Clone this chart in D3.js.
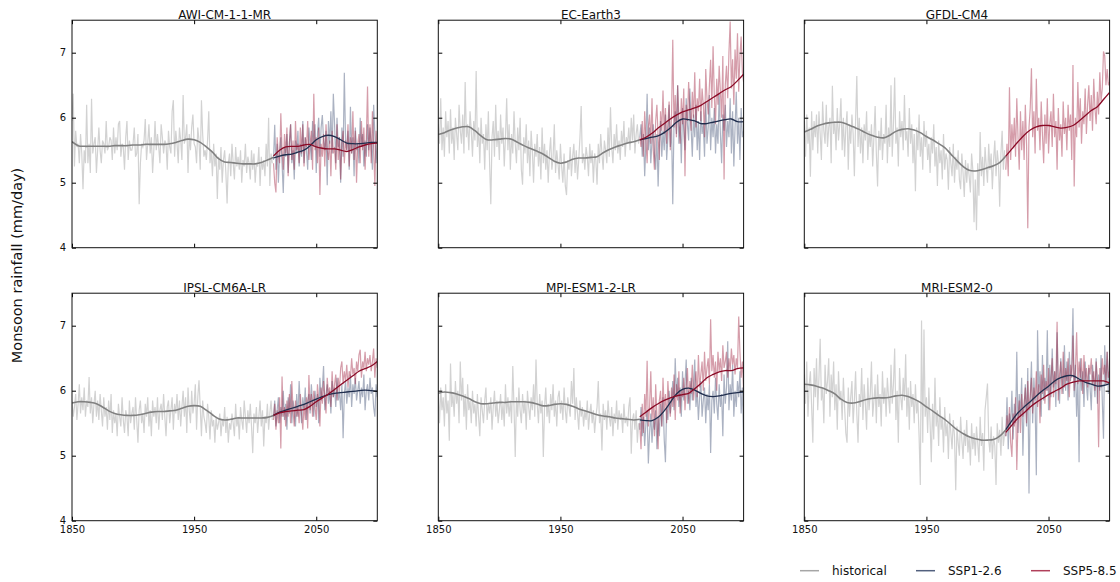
<!DOCTYPE html>
<html><head><meta charset="utf-8">
<script src="https://cdn.jsdelivr.net/npm/d3@7"></script>
<style>body{margin:0;background:#fff}svg{display:block;font-family:"DejaVu Sans",sans-serif}</style>
</head><body><svg id="c" width="1120" height="582"></svg>
<script>
const modelNames = ["AWI-CM-1-1-MR","EC-Earth3","GFDL-CM4","IPSL-CM6A-LR","MPI-ESM1-2-LR","MRI-ESM2-0"];
const xTicks = [1850,1950,2050];
const yTicks = [4,5,6,7];
const legendLabels = ["historical","SSP1-2.6","SSP5-8.5"];
const histStart = 1850, sspStart = 2015, smoothStep = 5;

// ---------- AWI-CM-1-1-MR ----------
const awiHistRaw = [
5.95,6.37,5.25,5.8,5.55,5.6,5.3,5.75,5.45,4.9,
5.5,5.3,6.2,5.3,5.6,5.15,6.29,5.45,5.6,5.7,
5.15,5.5,5.85,5.5,5.3,5.65,5.6,5.45,5.95,5.5,
5.55,5.7,5.65,5.35,5.85,5.45,5.7,5.5,5.9,5.95,
5.4,5.6,5.55,5.2,5.7,5.95,5.35,5.65,5.5,5.5,
5.6,5.85,5.4,5.45,5.75,4.67,5.3,5.6,5.55,5.65,
5.98,5.35,5.6,5.9,5.45,5.7,5.15,5.5,5.95,5.5,
5.75,5.55,5.3,5.9,5.7,5.45,5.65,5.6,5.2,5.8,
5.55,5.45,6.1,6.27,5.4,5.8,5.6,5.3,5.85,5.65,
5.35,6.35,5.6,5.7,5.9,5.15,5.75,5.5,5.85,6.05,
5.6,5.55,5.3,5.85,5.65,5.2,6.27,5.75,5.4,5.5,
5.35,5.65,6.1,5.3,5.5,5.1,5.6,5.25,5.45,4.75,
5.4,5.2,5.55,5.0,5.35,5.5,5.15,4.68,5.3,5.45,
5.1,5.6,5.3,5.05,5.55,5.25,5.4,5.2,5.5,5.0,
5.35,5.25,5.6,5.15,5.4,5.3,5.05,5.5,5.2,5.45,
5.0,5.3,5.25,5.55,4.95,5.4,5.2,5.35,5.1,5.6,
5.25,6.0,4.95,5.45,5.3];
const awiHistSmooth = [5.63,5.57,5.56,5.56,5.56,5.56,5.56,5.57,5.57,5.57,5.58,5.58,5.59,5.59,5.59,5.59,5.60,5.62,5.65,5.67,5.66,5.62,5.55,5.47,5.37,5.32,5.31,5.30,5.29,5.29,5.29,5.31,5.35,5.39];
const awi126Raw = [
5.35,5.89,5.2,5.6,5.0,5.45,5.7,5.3,4.84,5.55,
5.4,5.75,5.15,5.6,5.9,5.3,5.5,5.05,5.65,5.45,
5.8,5.25,5.6,5.4,5.95,5.3,5.7,5.5,5.2,5.85,
5.6,5.35,5.95,5.55,5.9,5.15,5.75,6.0,5.4,5.85,
6.04,5.65,5.5,5.8,4.96,5.95,5.6,6.1,5.45,6.37,
5.9,5.3,6.0,5.55,5.7,5.0,5.85,5.4,6.69,5.65,
5.5,5.8,5.2,6.17,5.45,5.7,5.1,5.85,5.5,5.6,
5.3,6.0,5.55,5.75,5.25,5.65,5.4,5.9,5.5,5.85,
5.6,5.2,6.2,5.75,5.3,5.6];
const awi126Smooth = [5.38,5.41,5.43,5.44,5.47,5.50,5.57,5.66,5.71,5.73,5.71,5.66,5.61,5.60,5.60,5.61,5.62,5.62];
const awi585Raw = [
5.3,5.0,4.85,5.7,5.4,5.3,6.07,5.5,5.2,5.75,
5.45,5.85,5.1,5.6,5.9,5.35,5.65,5.2,5.95,5.5,
5.6,5.3,5.85,5.45,5.9,5.25,5.7,5.55,5.95,5.35,
5.6,5.8,5.2,6.37,5.5,5.7,5.3,5.85,4.81,5.6,
5.4,5.75,5.25,5.9,5.5,5.35,5.65,5.1,5.8,5.45,
5.55,5.2,5.9,5.35,5.7,5.05,5.6,5.8,5.3,5.65,
5.5,5.9,5.25,5.7,5.45,6.1,5.35,5.8,5.0,5.6,
5.75,5.3,5.95,5.5,5.85,5.2,5.65,6.48,5.4,5.9,
5.3,6.1,5.55,4.95,5.8,5.6];
const awi585Smooth = [5.41,5.50,5.55,5.56,5.56,5.58,5.59,5.55,5.53,5.52,5.52,5.50,5.48,5.51,5.55,5.58,5.60,5.61];

// ---------- EC-Earth3 ----------
const ecHistRaw = [
5.9,5.6,6.3,5.5,5.85,5.4,6.1,5.7,5.95,5.45,
6.13,5.6,5.85,5.35,6.0,5.75,5.5,6.2,5.8,5.6,
6.05,5.45,6.55,5.7,5.9,5.5,6.1,5.8,5.4,5.95,
5.65,6.72,5.55,5.85,5.3,6.0,5.6,5.75,5.2,5.9,
5.5,6.1,5.3,4.67,5.7,5.95,5.4,6.2,5.55,5.8,
5.35,6.05,5.6,5.85,5.25,5.7,6.3,5.5,5.9,5.2,
5.75,5.45,6.1,5.6,5.3,5.85,5.5,6.0,5.2,4.97,
5.7,5.45,5.9,5.3,5.65,5.1,5.8,5.5,5.0,5.6,
5.4,5.75,5.25,5.55,5.05,5.85,5.3,5.6,5.2,5.5,
5.0,5.45,5.7,5.2,5.4,5.9,5.15,5.5,5.3,5.05,
5.6,5.25,5.0,5.45,4.95,4.81,5.35,5.2,5.55,5.1,
5.4,5.6,5.15,5.5,5.05,5.35,5.7,6.18,5.3,5.45,
5.2,5.55,5.4,5.1,5.6,5.3,5.5,5.0,5.45,5.35,
4.97,5.6,5.3,5.75,5.45,5.2,5.65,5.5,5.3,5.85,
5.4,6.16,5.55,5.3,5.75,5.5,5.9,5.45,5.65,5.35,
5.8,5.55,5.95,5.4,5.7,5.6,5.85,5.5,6.0,5.65,
6.05,5.45,5.75,5.9,5.6];
const ecHistSmooth = [5.74,5.77,5.81,5.84,5.86,5.86,5.80,5.72,5.66,5.66,5.67,5.68,5.67,5.62,5.57,5.53,5.49,5.45,5.39,5.33,5.30,5.32,5.36,5.38,5.38,5.39,5.40,5.46,5.51,5.55,5.58,5.61,5.63,5.66];
const ec126Raw = [
5.7,5.9,5.4,5.75,5.1,5.6,6.37,5.5,5.85,5.3,
5.65,5.9,5.45,5.2,5.75,4.94,5.6,5.95,5.4,5.8,
5.5,6.05,5.35,5.7,6.2,5.55,5.85,4.67,5.9,6.1,
5.75,6.5,5.6,5.95,5.3,6.15,5.8,5.5,6.3,5.9,
5.65,6.45,5.85,5.4,6.05,5.7,6.2,5.5,5.95,5.35,
6.1,5.75,5.9,5.4,6.25,5.6,5.85,6.35,5.5,6.0,
5.7,6.15,5.45,5.9,5.6,6.37,5.75,5.3,6.05,5.8,
6.2,5.55,5.95,5.7,6.3,5.45,6.1,5.25,5.85,6.4,
5.6,6.0,5.35,6.15,5.7,5.8];
const ec126Smooth = [5.66,5.68,5.70,5.72,5.77,5.84,5.93,5.98,5.97,5.95,5.91,5.91,5.93,5.95,5.97,5.98,5.94,5.94];
const ec585Raw = [
5.7,5.55,5.95,5.4,6.1,5.65,5.3,5.85,6.05,5.6,
6.3,5.5,5.2,5.95,6.2,5.7,5.35,6.1,5.8,6.42,
5.75,6.15,5.6,5.9,6.25,5.5,6.05,7.2,5.85,6.35,
5.7,6.5,6.0,5.6,6.3,5.9,6.45,5.1,6.2,5.95,
6.55,6.1,5.8,6.4,6.0,6.7,5.85,6.3,6.1,6.6,
5.95,6.45,6.2,5.7,6.75,6.3,6.05,6.5,6.89,6.15,
7.1,6.35,5.9,6.6,6.2,6.8,6.4,6.0,6.95,5.05,
6.5,6.8,6.3,7.0,7.48,6.45,6.9,6.2,7.05,6.6,
7.3,6.4,6.95,7.25,6.7,6.55];
const ec585Smooth = [5.66,5.70,5.76,5.84,5.91,5.98,6.04,6.09,6.12,6.15,6.19,6.25,6.31,6.37,6.43,6.48,6.57,6.67];

// ---------- GFDL-CM4 ----------
const gfdlHistRaw = [
5.95,5.4,6.05,5.6,5.85,5.09,6.1,5.5,5.95,5.7,
6.05,5.45,6.1,5.75,5.35,6.25,5.8,5.6,6.2,5.55,
5.85,6.0,5.3,6.49,5.75,5.95,5.5,6.15,5.65,5.9,
6.3,5.5,6.0,5.4,5.85,6.1,5.2,5.9,5.6,6.05,
5.75,5.1,5.95,6.64,5.55,6.0,5.45,5.85,5.3,5.9,
5.65,6.1,5.35,5.8,5.55,5.9,5.25,5.7,6.18,5.45,
4.94,5.8,5.5,6.0,5.35,5.75,5.6,6.2,5.3,5.85,
5.55,6.5,5.4,5.9,6.62,5.6,5.85,5.25,6.1,5.7,
5.95,5.5,6.35,5.65,5.8,5.4,6.15,5.6,5.9,5.3,
5.75,4.87,5.85,5.5,6.05,5.4,5.7,5.2,5.95,5.55,
5.8,5.35,5.6,5.15,5.7,5.45,5.9,5.25,5.55,4.95,
5.65,5.3,5.5,5.05,5.75,5.2,5.45,5.35,4.89,5.55,
5.3,5.1,5.6,5.0,5.4,5.2,5.5,5.05,4.9,5.45,
5.15,4.78,5.35,5.0,5.3,5.1,4.85,5.45,5.2,4.39,
5.05,4.27,5.3,4.8,5.78,5.1,5.4,4.95,5.55,5.25,
5.0,5.6,5.2,5.45,4.9,5.35,5.65,5.1,5.5,5.3,
4.63,5.45,5.8,5.2,5.5];
const gfdlHistSmooth = [5.78,5.82,5.87,5.90,5.92,5.93,5.93,5.90,5.86,5.82,5.77,5.73,5.70,5.69,5.73,5.79,5.82,5.83,5.81,5.77,5.71,5.66,5.60,5.54,5.44,5.34,5.25,5.19,5.18,5.20,5.23,5.26,5.31,5.41];
const gfdl126Raw = null;
const gfdl126Smooth = null;
const gfdl585Raw = [
5.2,5.6,5.1,6.47,5.35,5.9,5.55,6.0,5.4,6.3,
5.7,5.2,6.1,5.5,5.95,5.35,6.2,5.6,4.3,5.85,
6.15,6.76,5.7,6.1,5.45,6.6,5.8,6.0,5.5,6.25,
5.75,5.3,6.05,5.6,6.3,5.45,5.9,6.1,5.55,6.37,
5.7,5.95,5.2,6.15,5.65,5.9,5.4,6.25,5.75,6.0,
5.5,6.2,5.8,6.05,5.35,6.81,4.94,6.0,5.7,6.55,
5.85,6.3,5.6,6.1,5.9,6.45,5.75,6.2,6.5,5.95,
6.35,5.8,6.6,6.15,5.9,6.4,6.05,6.7,6.25,6.45,
7.02,6.95,6.5,6.75,6.5,6.55];
const gfdl585Smooth = [5.41,5.52,5.63,5.73,5.81,5.86,5.88,5.88,5.86,5.84,5.85,5.88,5.95,6.03,6.11,6.17,6.28,6.39];

// ---------- IPSL-CM6A-LR ----------
const ipslHistRaw = [
5.85,5.6,5.75,5.95,5.55,5.8,6.1,5.65,5.9,5.7,
6.05,5.6,5.85,5.75,6.21,5.65,5.9,5.5,5.8,6.0,
5.6,5.85,5.55,5.95,5.7,5.45,5.9,5.6,5.75,5.4,
5.85,5.55,5.95,5.35,5.7,5.5,5.65,5.3,5.8,5.6,
5.45,5.9,5.55,5.35,5.7,5.6,5.3,5.85,5.5,5.65,
5.75,5.4,5.9,5.55,5.2,5.7,5.85,5.5,5.65,5.35,
5.8,5.6,5.9,5.45,5.7,5.3,5.85,5.6,5.75,5.5,
5.9,5.4,5.7,5.8,5.55,5.95,5.6,5.3,5.75,5.85,
5.5,5.7,5.9,5.4,5.8,5.65,5.95,5.55,5.85,5.45,
5.75,6.0,5.6,5.9,5.35,6.05,5.7,5.5,6.0,5.65,
5.8,6.1,5.4,5.9,6.16,5.75,5.3,5.85,5.6,5.5,
5.35,5.8,5.6,5.25,5.7,5.45,5.55,5.2,5.6,5.4,
5.5,5.65,5.3,5.55,5.45,5.75,5.35,5.6,5.2,5.5,
5.4,5.65,5.5,5.3,5.8,5.45,5.6,5.25,5.75,5.55,
5.4,5.85,5.6,5.35,5.7,5.5,5.8,5.45,5.04,5.65,
5.5,5.75,5.35,5.6,5.85,5.45,5.7,5.14,5.6,5.5,
5.8,5.4,5.65,5.85,5.55];
const ipslHistSmooth = [5.81,5.83,5.83,5.82,5.80,5.75,5.69,5.65,5.63,5.62,5.62,5.63,5.65,5.67,5.68,5.68,5.69,5.70,5.73,5.76,5.77,5.76,5.70,5.63,5.57,5.55,5.56,5.58,5.58,5.58,5.58,5.58,5.59,5.62];
const ipsl126Raw = [
5.6,5.85,5.45,5.7,5.9,5.5,5.75,5.6,6.0,5.55,
5.8,5.4,5.9,5.65,6.1,5.5,5.85,5.7,5.45,5.95,
5.6,6.15,5.75,5.5,5.9,5.7,6.05,5.55,5.85,5.95,
5.65,6.1,5.8,5.6,6.0,5.75,5.95,5.5,6.2,5.85,
6.05,6.38,5.7,5.95,6.1,5.8,6.0,5.65,6.15,5.9,
6.05,5.75,6.2,5.85,6.0,5.7,6.1,5.27,5.95,6.15,
5.8,6.05,5.9,6.25,5.75,6.1,5.95,6.2,5.85,6.0,
6.15,5.8,6.05,5.9,6.25,5.7,6.0,6.1,5.85,6.2,
5.95,6.05,5.75,5.6,6.1,5.9];
const ipsl126Smooth = [5.62,5.67,5.70,5.73,5.76,5.79,5.83,5.87,5.91,5.94,5.96,5.97,5.98,5.99,6.00,6.01,6.00,5.99];
const ipsl585Raw = [
5.55,5.8,5.4,5.7,5.5,5.9,5.11,6.22,5.6,5.75,
5.45,5.85,5.6,5.95,5.5,6.15,5.7,5.45,5.85,5.6,
5.75,5.5,5.95,5.65,5.4,5.8,5.55,5.9,5.42,6.24,
5.7,5.95,5.6,6.0,5.75,5.55,6.1,5.85,5.45,6.05,
5.8,6.15,5.9,5.65,6.2,5.95,6.05,5.75,6.3,5.9,
6.1,6.25,5.85,6.2,6.0,6.35,6.45,6.1,6.3,6.15,
6.4,6.05,6.3,6.2,6.5,6.25,6.35,6.1,6.45,6.3,
6.55,6.63,6.2,6.45,6.35,6.6,6.3,6.5,6.4,6.55,
6.3,6.45,6.65,6.2,6.5,6.35];
const ipsl585Smooth = [5.62,5.66,5.68,5.69,5.70,5.71,5.76,5.83,5.89,5.95,6.02,6.09,6.16,6.23,6.30,6.34,6.38,6.45];

// ---------- MPI-ESM1-2-LR ----------
const mpiHistRaw = [
5.95,5.5,6.05,5.7,5.9,5.45,6.1,5.65,5.85,5.23,
6.42,5.75,5.95,5.6,6.15,5.8,6.0,5.5,6.45,5.85,
6.2,5.6,5.95,5.4,6.1,5.7,5.85,5.5,6.0,5.65,
5.8,5.45,5.95,5.6,5.3,5.9,5.7,5.5,5.85,6.05,
5.55,5.8,5.65,5.9,5.4,5.75,6.0,5.6,5.85,5.5,
5.7,5.95,5.55,5.8,5.45,6.1,5.65,5.9,5.6,5.85,
5.5,6.38,5.75,4.98,5.9,5.6,6.05,5.7,5.5,5.95,
5.65,5.85,5.4,6.0,5.75,5.55,5.9,5.7,6.1,5.6,
6.48,5.8,5.5,5.95,5.65,5.85,4.98,5.75,6.05,5.6,
5.8,5.5,5.95,5.7,6.1,5.6,5.85,5.45,5.9,6.0,
5.65,5.85,5.55,6.05,5.7,5.5,5.9,5.75,5.6,6.15,
5.8,6.35,5.55,5.9,5.65,5.4,5.85,5.6,5.75,5.45,
5.7,5.55,5.85,5.4,5.65,5.8,5.5,5.7,5.35,5.6,
5.75,6.15,5.5,5.65,5.08,5.8,5.55,5.7,5.4,5.85,
5.6,5.45,5.75,5.3,5.65,5.5,5.85,5.4,5.7,5.55,
5.65,5.35,5.8,5.5,5.6,5.45,5.75,5.9,5.03,5.55,
5.65,5.4,5.7,5.2,5.5];
const mpiHistSmooth = [5.96,5.98,5.97,5.95,5.92,5.88,5.83,5.80,5.80,5.81,5.82,5.82,5.83,5.83,5.83,5.82,5.80,5.77,5.77,5.79,5.80,5.79,5.76,5.72,5.69,5.66,5.63,5.61,5.60,5.58,5.57,5.56,5.55,5.56];
const mpi126Raw = [
5.4,5.75,5.3,5.6,5.15,5.5,5.7,4.88,5.35,5.65,
5.2,5.55,5.4,5.7,5.1,5.6,5.3,5.8,5.45,5.9,
5.25,4.9,5.75,5.55,6.0,5.65,5.85,6.15,5.7,6.5,
5.9,6.2,5.75,6.05,5.6,6.3,5.85,6.1,6.48,5.8,
6.0,5.7,6.2,5.85,6.1,6.48,5.75,6.0,5.55,5.9,
6.15,5.6,5.85,6.05,5.5,5.95,5.7,6.1,5.04,5.85,
6.0,5.65,6.2,5.8,5.55,6.1,5.75,5.95,5.3,6.25,
5.8,6.05,6.76,5.7,6.1,5.85,6.4,5.6,6.0,5.75,
6.15,5.9,6.3,5.65,6.05,5.2];
const mpi126Smooth = [5.55,5.54,5.54,5.59,5.69,5.82,5.95,6.02,6.04,6.01,5.96,5.92,5.91,5.92,5.94,5.96,5.97,5.98];
const mpi585Raw = [
5.5,5.1,5.8,5.35,5.95,5.6,6.46,5.45,5.75,6.3,
5.55,5.9,5.3,6.1,5.6,5.1,5.85,6.0,5.45,6.2,
5.7,5.95,5.5,6.15,5.8,5.6,6.05,5.75,6.25,5.55,
6.1,5.85,6.3,5.65,6.0,5.9,6.2,5.7,6.05,6.35,
5.8,6.15,5.95,6.4,5.85,6.1,6.3,5.9,6.55,6.05,
6.25,6.45,6.0,6.6,6.15,6.35,6.5,6.1,7.1,6.3,
6.55,6.2,6.45,6.0,6.6,6.3,6.5,6.15,6.7,6.35,
6.45,6.6,6.2,6.5,6.3,6.65,6.4,6.55,6.25,6.5,
6.35,7.14,6.6,6.2,6.45,6.0];
const mpi585Smooth = [5.60,5.67,5.74,5.80,5.85,5.89,5.92,5.94,5.96,6.03,6.11,6.20,6.25,6.29,6.31,6.31,6.34,6.35];

// ---------- MRI-ESM2-0 ----------
const mriHistRaw = [
6.25,5.8,6.45,5.6,6.1,6.3,5.75,5.2,6.35,5.9,
6.5,5.7,6.2,6.8,5.85,6.05,5.5,6.4,5.95,6.15,
6.5,5.6,6.25,5.9,6.45,5.7,6.1,5.4,6.3,5.85,
6.0,5.55,6.2,5.75,5.35,5.2,6.05,5.6,5.9,6.15,
5.5,5.85,6.3,5.65,5.2,5.95,5.75,6.35,5.55,6.1,
5.8,5.4,6.2,5.7,5.95,6.45,5.6,5.85,6.1,5.5,
6.25,5.75,5.95,5.45,6.3,5.8,6.05,5.6,6.2,5.9,
5.65,6.4,5.8,6.1,6.65,5.55,6.0,5.2,6.35,5.9,
5.7,6.2,5.85,6.56,5.6,6.05,5.4,6.15,5.75,5.95,
5.5,6.1,5.65,5.85,5.3,4.55,7.08,5.2,6.94,5.6,
5.9,5.35,6.05,5.5,4.9,5.8,5.25,6.2,5.45,5.7,
5.15,5.9,5.4,5.6,5.05,5.75,5.3,5.5,4.95,5.65,
5.35,5.1,5.55,5.3,4.47,5.45,5.2,5.0,5.6,5.25,
4.95,5.4,5.15,5.55,5.05,5.3,4.85,5.5,5.1,5.35,
5.0,5.45,5.2,4.9,5.6,5.15,5.35,4.77,5.7,5.9,
6.11,5.25,5.05,5.45,4.95,5.3,5.15,4.55,5.5,5.2,
5.4,5.0,5.6,5.15,5.35];
const mriHistSmooth = [6.10,6.09,6.07,6.04,6.00,5.95,5.87,5.82,5.81,5.83,5.86,5.88,5.89,5.89,5.90,5.92,5.93,5.91,5.87,5.82,5.75,5.69,5.62,5.56,5.48,5.40,5.34,5.29,5.26,5.24,5.24,5.25,5.30,5.40];
const mri126Raw = [
5.3,5.9,5.1,5.65,5.45,6.0,5.25,5.8,5.5,6.6,
5.35,5.95,5.6,6.2,5.0,5.75,6.1,5.45,6.35,4.42,
5.9,6.45,5.5,6.2,5.8,4.7,6.93,5.95,6.3,5.6,
6.55,5.85,6.2,6.0,6.93,5.7,6.4,5.9,6.65,6.05,
6.3,5.75,6.9,6.1,5.8,6.5,6.2,5.95,6.7,6.0,
6.45,5.85,6.6,6.15,6.35,7.27,5.9,6.4,5.6,6.2,
4.9,6.5,6.0,6.3,5.75,6.45,6.1,5.85,6.35,6.05,
5.7,6.4,6.15,5.9,6.5,5.8,6.25,6.0,6.55,5.85,
5.26,6.7,6.1,6.6,5.95,6.5];
const mri126Smooth = [5.40,5.54,5.66,5.75,5.83,5.92,6.00,6.07,6.15,6.20,6.23,6.23,6.18,6.13,6.10,6.07,6.08,6.11];
const mri585Raw = [
5.3,5.62,5.4,5.75,5.2,4.98,5.65,5.45,5.9,4.78,
5.55,5.85,5.35,5.95,5.6,5.8,6.05,5.5,6.15,5.7,
5.9,6.2,5.65,6.05,5.85,6.3,5.75,6.1,5.5,6.25,
5.95,6.4,5.8,6.15,6.0,6.35,5.7,6.2,6.5,5.9,
6.3,6.1,7.06,5.85,6.25,6.45,5.95,6.6,6.05,6.35,
6.15,6.5,5.9,6.4,6.2,6.85,6.0,6.3,6.9,6.1,
6.45,6.2,6.5,5.95,6.55,6.15,6.35,6.05,6.4,6.25,
6.5,6.1,6.3,6.0,6.45,6.2,5.13,6.35,6.05,6.5,
6.25,6.4,6.1,6.6,6.2,6.3];
const mri585Smooth = [5.36,5.47,5.58,5.66,5.75,5.82,5.88,5.94,5.99,6.04,6.10,6.13,6.15,6.15,6.15,6.15,6.15,6.12];

const models = [
  {hist: awiHistRaw, histS: awiHistSmooth, s126: awi126Raw, s126S: awi126Smooth, s585: awi585Raw, s585S: awi585Smooth},
  {hist: ecHistRaw, histS: ecHistSmooth, s126: ec126Raw, s126S: ec126Smooth, s585: ec585Raw, s585S: ec585Smooth},
  {hist: gfdlHistRaw, histS: gfdlHistSmooth, s126: gfdl126Raw, s126S: gfdl126Smooth, s585: gfdl585Raw, s585S: gfdl585Smooth},
  {hist: ipslHistRaw, histS: ipslHistSmooth, s126: ipsl126Raw, s126S: ipsl126Smooth, s585: ipsl585Raw, s585S: ipsl585Smooth},
  {hist: mpiHistRaw, histS: mpiHistSmooth, s126: mpi126Raw, s126S: mpi126Smooth, s585: mpi585Raw, s585S: mpi585Smooth},
  {hist: mriHistRaw, histS: mriHistSmooth, s126: mri126Raw, s126S: mri126Smooth, s585: mri585Raw, s585S: mri585Smooth}
];

// ---------- drawing ----------
const col = {
  histRaw: "#d2d2d2", histSm: "#808080",
  s126Raw: "#2c3e66", s126Sm: "#1f2d4d",
  s585Raw: "#9b1535", s585Sm: "#8b0a26",
  legend: ["#a6a6a6", "#52607e", "#b0405a"]
};
const svg = d3.select("#c");
const colX = [72, 438.3, 804.3], rowY = [20.2, 293.2];
const pw = 305.3, ph = 227.5;
const x = d3.scaleLinear().domain([1850, 2100]).range([0, pw]);
const y = d3.scaleLinear().domain([4, 7.5]).range([ph, 0]);

const lineRaw = start => d3.line().x((d, i) => x(start + i)).y(d => y(d));
const lineSm = start => d3.line().x((d, i) => x(start + i * smoothStep)).y(d => y(d)).curve(d3.curveCatmullRom.alpha(0.5));

models.forEach((m, k) => {
  const c = k % 3, r = Math.floor(k / 3);
  const g = svg.append("g").attr("transform", `translate(${colX[c]},${rowY[r]})`);
  const cid = "clip" + k;
  g.append("clipPath").attr("id", cid).append("rect").attr("width", pw).attr("height", ph);
  const pg = g.append("g").attr("clip-path", `url(#${cid})`);

  pg.append("path").attr("d", lineRaw(histStart)(m.hist)).attr("fill", "none")
    .attr("stroke", col.histRaw).attr("stroke-width", 1.2);
  if (m.s126) pg.append("path").attr("d", lineRaw(sspStart)(m.s126)).attr("fill", "none")
    .attr("stroke", col.s126Raw).attr("stroke-opacity", 0.4).attr("stroke-width", 1.2);
  if (m.s585) pg.append("path").attr("d", lineRaw(sspStart)(m.s585)).attr("fill", "none")
    .attr("stroke", col.s585Raw).attr("stroke-opacity", 0.42).attr("stroke-width", 1.2);

  pg.append("path").attr("d", lineSm(histStart)(m.histS)).attr("fill", "none")
    .attr("stroke", col.histSm).attr("stroke-width", 1.6);
  if (m.s126S) pg.append("path").attr("d", lineSm(sspStart)(m.s126S)).attr("fill", "none")
    .attr("stroke", col.s126Sm).attr("stroke-width", 1.3);
  if (m.s585S) pg.append("path").attr("d", lineSm(sspStart)(m.s585S)).attr("fill", "none")
    .attr("stroke", col.s585Sm).attr("stroke-width", 1.3);

  // axes with inward ticks on all sides
  const styleAxis = sel => {
    sel.select(".domain").remove();
    sel.selectAll(".tick line").attr("stroke", "#000").attr("stroke-width", 1);
    sel.selectAll(".tick text").attr("fill", "#111").style("font-size", "10px").style("font-family", "'DejaVu Sans', sans-serif");
  };
  const bottom = d3.axisBottom(x).tickValues(xTicks).tickSizeInner(-4).tickSizeOuter(0).tickPadding(5.5)
    .tickFormat(r === 1 ? d3.format("d") : () => "");
  g.append("g").attr("transform", `translate(0,${ph})`).call(bottom).call(styleAxis);
  g.append("g").call(d3.axisTop(x).tickValues(xTicks).tickSizeInner(-4).tickSizeOuter(0).tickFormat(() => "")).call(styleAxis);
  const left = d3.axisLeft(y).tickValues(yTicks).tickSizeInner(-4).tickSizeOuter(0).tickPadding(6)
    .tickFormat(c === 0 ? d3.format("d") : () => "");
  g.append("g").call(left).call(styleAxis);
  g.append("g").attr("transform", `translate(${pw},0)`).call(d3.axisRight(y).tickValues(yTicks).tickSizeInner(-4).tickSizeOuter(0).tickFormat(() => "")).call(styleAxis);

  g.append("rect").attr("width", pw).attr("height", ph).attr("fill", "none")
    .attr("stroke", "#111").attr("stroke-width", 1);

  g.append("text").attr("x", pw / 2).attr("y", -1.5).attr("text-anchor", "middle")
    .style("font-size", "12px").attr("fill", "#111").text(modelNames[k]);
});

svg.append("text").attr("transform", "translate(21.5,265.5) rotate(-90)").attr("text-anchor", "middle")
  .style("font-size", "14.5px").attr("fill", "#111").text("Monsoon rainfall (mm/day)");

// legend
const legX = [800, 916, 1031];
legendLabels.forEach((lab, i) => {
  const lg = svg.append("g").attr("transform", `translate(${legX[i]},570.7)`);
  lg.append("line").attr("x1", 0).attr("x2", 19).attr("stroke", col.legend[i]).attr("stroke-width", 1.5);
  lg.append("text").attr("x", 32).attr("dy", "0.35em").style("font-size", "12px").attr("fill", "#111").text(lab);
});
</script></body></html>
